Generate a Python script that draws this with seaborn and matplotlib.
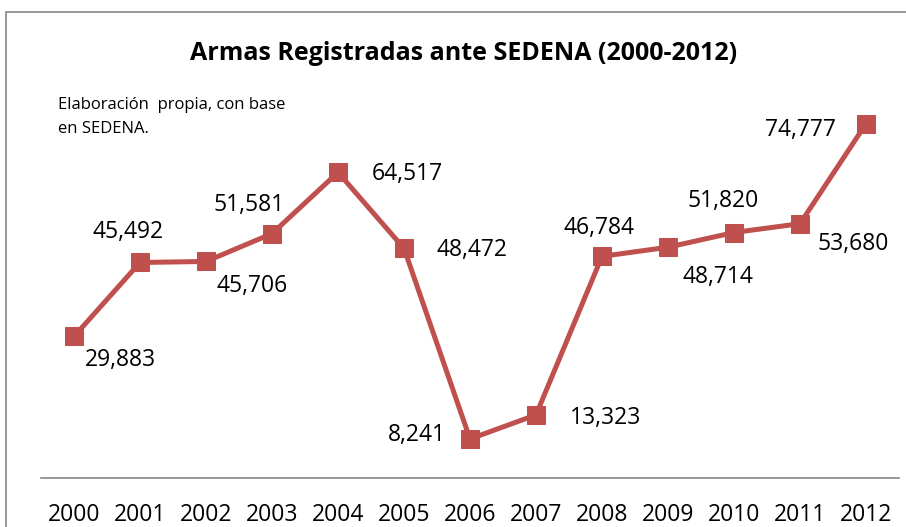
import pandas as pd
import seaborn as sns
import matplotlib.pyplot as plt
from matplotlib.patches import Rectangle

years = [2000, 2001, 2002, 2003, 2004, 2005, 2006, 2007, 2008, 2009, 2010, 2011, 2012]
armas = [29883, 45492, 45706, 51581, 64517, 48472, 8241, 13323, 46784, 48714, 51820, 53680, 74777]

df = pd.DataFrame({'year': years, 'armas': armas})

# label offsets in pixels (dx, dy), dy positive = up
offsets = [(46, -24), (-12, 30), (46, -25), (-23, 29), (69, -2), (68, -2), (-53, 4),
           (70, -3), (-3, 28), (50, -30), (-11, 32), (53, -20), (-66, -6)]

sns.set_theme(style='white')
plt.rcParams['font.family'] = ['Open Sans', 'DejaVu Sans']
plt.rcParams['text.color'] = 'black'
plt.rcParams['xtick.color'] = 'black'

red = '#C0504D'
fig = plt.figure(figsize=(9.06, 5.27), dpi=100)
ax = fig.add_axes([41 / 906, 49 / 527, 858 / 906, 379 / 527])

sns.lineplot(data=df, x='year', y='armas', ax=ax, color=red, linewidth=3.6,
             marker='s', markersize=13, markeredgecolor=red, markerfacecolor=red)

for x, y, (dx, dy) in zip(years, armas, offsets):
    ax.annotate(f'{y:,}', (x, y), xytext=(dx, dy), textcoords='offset pixels',
                ha='center', va='center', fontsize=16.5, color='black')

ax.set_xlim(1999.5, 2012.5)
ax.set_ylim(0, 80000)
ax.set_xticks(years)
ax.set_xticklabels([str(y) for y in years], fontsize=16.5)
ax.tick_params(axis='x', length=0, pad=18)
ax.set_yticks([])
ax.set_xlabel('')
ax.set_ylabel('')
for s in ['top', 'right', 'left']:
    ax.spines[s].set_visible(False)
ax.spines['bottom'].set_color('#868686')
ax.spines['bottom'].set_linewidth(1.2)

fig.text(464 / 906, 1 - 53 / 527, 'Armas Registradas ante SEDENA (2000-2012)',
         ha='center', va='center', fontsize=18, fontweight='bold')
fig.text(58 / 906, 1 - 117 / 527, 'Elaboración  propia, con base\nen SEDENA.',
         ha='left', va='center', fontsize=12, linespacing=1.6)

fig.patches.append(Rectangle((6 / 906, -0.1), 1.1, 1.1 - 12 / 527,
                             transform=fig.transFigure, fill=False,
                             edgecolor='#868686', linewidth=1.2))

fig.savefig('out.png', dpi=100)
